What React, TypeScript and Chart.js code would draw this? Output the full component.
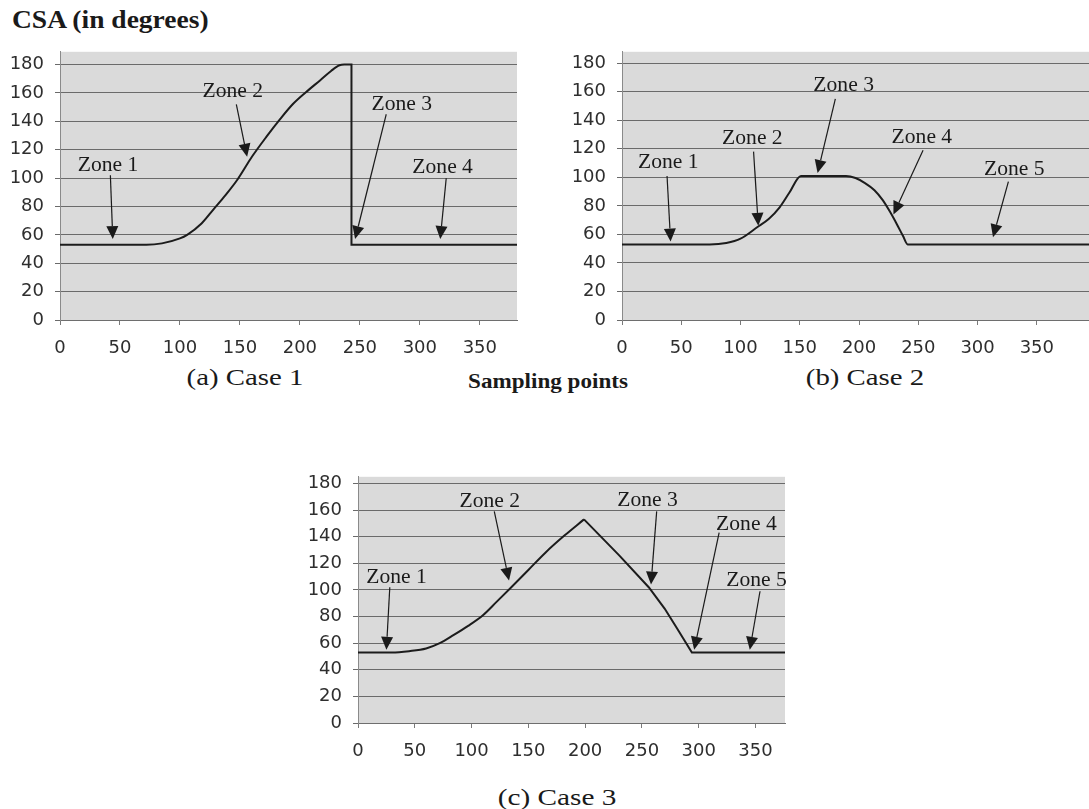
import React, { useEffect, useRef } from "react";
import { Chart, registerables } from "chart.js";

Chart.register(...registerables);

// ---------- data ----------
const xTickStep = 50;
const yTickStep = 20;

// Case 1
const case1X = [0, 72, 85, 100, 106, 118, 128, 138, 148, 160, 172, 183, 194, 205, 217, 226, 233, 237, 243, 243, 382];
const case1Y = [53, 53, 54, 57.5, 60, 68, 78, 88, 99, 115, 129, 141, 152, 160.5, 169, 175.5, 179.5, 180, 180, 53, 53];

// Case 2
const case2X = [0, 74, 88, 100, 114, 124, 133, 141, 151, 189, 197, 205, 213, 220, 226, 232, 237, 241, 395];
const case2Y = [53, 53, 54, 57, 65, 71, 79, 89, 101, 101, 99.5, 96, 91, 84, 76, 67, 59, 53, 53];

// Case 3 (smooth rise, straight fall)
const case3RiseX = [0, 30, 45, 60, 72, 84, 97, 110, 122, 135, 150, 165, 182, 199];
const case3RiseY = [53, 53, 54, 56, 60, 66, 73, 81, 91, 102, 115, 128, 141, 153];
const case3FallX = [199, 230, 256, 270, 281, 294, 378];
const case3FallY = [153, 126, 102, 86, 71, 53, 53];

// Zone annotations: [label, labelX, labelY, arrowStartX, arrowStartY, tipX, tipY]
type Zone = [string, number, number, number, number, number, number];
const case1Zones: Zone[] = [
  ["Zone 1", 40, 109, 42, 102, 44, 57],
  ["Zone 2", 144, 161, 147, 152, 156, 115],
  ["Zone 3", 285, 152, 272, 145, 246, 57],
  ["Zone 4", 319, 107, 322, 100, 317, 57],
];
const case2Zones: Zone[] = [
  ["Zone 1", 39, 110, 38, 101, 41, 55],
  ["Zone 2", 110, 127, 111, 118, 115, 66],
  ["Zone 3", 187, 164, 180, 155, 165, 103],
  ["Zone 4", 253, 128, 254, 119, 229, 74],
  ["Zone 5", 331, 105, 326, 97, 313, 58],
];
const case3Zones: Zone[] = [
  ["Zone 1", 34, 109, 28, 102, 25, 55],
  ["Zone 2", 116, 166, 120, 159, 133, 107],
  ["Zone 3", 255, 167, 263, 159, 258, 104],
  ["Zone 4", 342, 149, 318, 143, 296, 55],
  ["Zone 5", 351, 107, 354, 99, 345, 55],
];

// ---------- plugins ----------
const plotBg = {
  id: "plotBg",
  beforeDraw(chart: any) {
    const { ctx, chartArea } = chart;
    const { left, top, right, bottom } = chartArea;
    ctx.save();
    ctx.fillStyle = "#dadada";
    ctx.fillRect(left, top, right - left, bottom - top);
    ctx.restore();
  },
};

function makeZonePlugin(zones: Zone[]) {
  return {
    id: "zones",
    afterDatasetsDraw(chart: any) {
      const { ctx } = chart;
      const xs = chart.scales.x;
      const ys = chart.scales.y;
      ctx.save();
      for (const z of zones) {
        const [label, lx, ly, sx, sy, tx, ty] = z;
        const px = xs.getPixelForValue(lx);
        const py = ys.getPixelForValue(ly);
        ctx.save();
        ctx.translate(px, py);
        ctx.scale(1.08, 1);
        ctx.font = "20px 'Liberation Serif'";
        ctx.fillStyle = "#1a1a1a";
        ctx.textAlign = "center";
        ctx.textBaseline = "middle";
        ctx.fillText(label, 0, 0);
        ctx.restore();
        const ax = xs.getPixelForValue(sx);
        const ay = ys.getPixelForValue(sy);
        const bx = xs.getPixelForValue(tx);
        const by = ys.getPixelForValue(ty);
        const ang = Math.atan2(by - ay, bx - ax);
        const headLen = 13;
        const headW = 6;
        const ex = bx - Math.cos(ang) * headLen;
        const ey = by - Math.sin(ang) * headLen;
        ctx.strokeStyle = "#1a1a1a";
        ctx.fillStyle = "#1a1a1a";
        ctx.lineWidth = 1.2;
        ctx.beginPath();
        ctx.moveTo(ax, ay);
        ctx.lineTo(ex, ey);
        ctx.stroke();
        ctx.beginPath();
        ctx.moveTo(bx, by);
        ctx.lineTo(ex + Math.sin(ang) * headW, ey - Math.cos(ang) * headW);
        ctx.lineTo(ex - Math.sin(ang) * headW, ey + Math.cos(ang) * headW);
        ctx.closePath();
        ctx.fill();
      }
      ctx.restore();
    },
  };
}

function seg(xsArr: number[], ysArr: number[], smooth: boolean) {
  return {
    data: xsArr.map((x, i) => ({ x, y: ysArr[i] })),
    borderColor: "#1c1c1c",
    borderWidth: 2,
    pointRadius: 0,
    tension: smooth ? 0.4 : 0,
    cubicInterpolationMode: smooth ? "monotone" : "default",
    fill: false,
  };
}

function makeConfig(
  datasets: any[],
  xMax: number,
  yMax: number,
  padding: { top: number; right: number; bottom: number; left: number },
  yAxisWidth: number,
  zones: Zone[]
): any {
  const tickFont = { family: "'DejaVu Sans', sans-serif", size: 18 };
  return {
    type: "line",
    data: { datasets },
    options: {
      responsive: false,
      animation: false,
      devicePixelRatio: 1,
      layout: { padding },
      plugins: { legend: { display: false }, tooltip: { enabled: false } },
      scales: {
        x: {
          type: "linear",
          min: 0,
          max: xMax,
          ticks: {
            stepSize: xTickStep,
            includeBounds: false,
            autoSkip: false,
            maxRotation: 0,
            color: "#2e2e2e",
            font: tickFont,
            padding: 13,
          },
          grid: { display: true, drawOnChartArea: false, drawTicks: true, tickLength: 5, color: "#7a7a7a" },
          border: { display: true, color: "#6e6e6e", width: 1 },
          afterFit: (s: any) => {
            s.height = 40;
          },
        },
        y: {
          type: "linear",
          min: 0,
          max: yMax,
          ticks: {
            stepSize: yTickStep,
            includeBounds: false,
            color: "#2e2e2e",
            font: tickFont,
            padding: 11,
          },
          grid: { display: true, color: "#6a6a6a", lineWidth: 1, tickLength: 5 },
          border: { display: true, color: "#8a8a8a", width: 1 },
          afterFit: (s: any) => {
            s.width = yAxisWidth;
          },
        },
      },
    },
    plugins: [plotBg, makeZonePlugin(zones)],
  };
}

function ChartBox(props: { left: number; top: number; width: number; height: number; config: any }) {
  const ref = useRef<HTMLCanvasElement>(null);
  useEffect(() => {
    if (!ref.current) return;
    const chart = new Chart(ref.current, props.config);
    return () => chart.destroy();
  }, []);
  return (
    <canvas
      ref={ref}
      width={props.width}
      height={props.height}
      style={{
        position: "absolute",
        left: props.left,
        top: props.top,
        width: props.width,
        height: props.height,
      }}
    />
  );
}

const serif = "'Liberation Serif', 'Times New Roman', serif";

function TextAt(props: {
  cx: number;
  cy: number;
  text: string;
  size: number;
  sx: number;
  bold?: boolean;
  left?: boolean;
}) {
  const w = 400;
  return (
    <div
      style={{
        position: "absolute",
        left: props.left ? props.cx : props.cx - w / 2,
        top: props.cy - 15,
        width: w,
        height: 30,
        lineHeight: "30px",
        textAlign: props.left ? "left" : "center",
        fontFamily: serif,
        fontSize: props.size,
        fontWeight: props.bold ? "bold" : "normal",
        color: "#1a1a1a",
        whiteSpace: "nowrap",
        transform: `scaleX(${props.sx})`,
        transformOrigin: props.left ? "left center" : "center center",
      }}
    >
      {props.text}
    </div>
  );
}

export default function App() {
  const c1 = makeConfig([seg(case1X, case1Y, true)], 381, 189, { top: 17, right: 23, bottom: 0, left: 0 }, 60, case1Zones);
  const c2 = makeConfig([seg(case2X, case2Y, true)], 394, 188, { top: 15, right: 0, bottom: 0, left: 0 }, 82, case2Zones);
  const c3 = makeConfig(
    [seg(case3RiseX, case3RiseY, true), seg(case3FallX, case3FallY, false)],
    376,
    185,
    { top: 20, right: 25, bottom: 0, left: 0 },
    88,
    case3Zones
  );
  return (
    <div
      style={{
        position: "absolute",
        left: 0,
        top: 0,
        width: 1089,
        height: 809,
        overflow: "hidden",
        background: "#fff",
      }}
    >
      <TextAt cx={12} cy={20} text="CSA (in degrees)" size={25} sx={1.1} bold left />
      <ChartBox left={0} top={30} width={540} height={330} config={c1} />
      <ChartBox left={540} top={30} width={549} height={330} config={c2} />
      <ChartBox left={270} top={455} width={540} height={308} config={c3} />
      <TextAt cx={245} cy={377} text="(a) Case 1" size={24} sx={1.2} />
      <TextAt cx={548} cy={381} text="Sampling points" size={22} sx={1.05} bold />
      <TextAt cx={865} cy={377} text="(b) Case 2" size={24} sx={1.2} />
      <TextAt cx={557} cy={797} text="(c) Case 3" size={24} sx={1.22} />
    </div>
  );
}
